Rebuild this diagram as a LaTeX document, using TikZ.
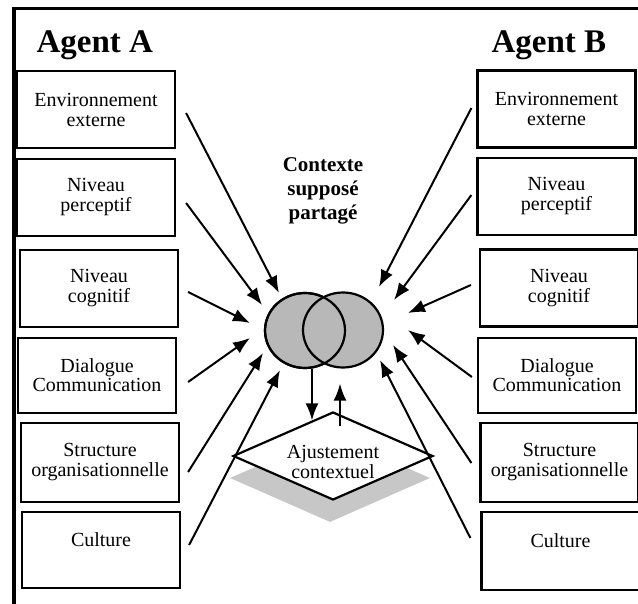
\documentclass[tikz,border=0pt]{standalone}
\usepackage{fontspec}
\setmainfont{Liberation Serif}
\usetikzlibrary{shapes.geometric, arrows.meta, positioning, calc}

\begin{document}
\begin{tikzpicture}[x=1pt, y=-1pt,
  box/.style={draw, rectangle, line width=2.2, minimum width=158, minimum height=77, inner sep=0, align=center, font=\fontsize{20}{20}\selectfont},
  agent/.style={anchor=base west, font=\fontsize{33}{35}\selectfont\bfseries},
  arr/.style={-{Latex[length=17pt, width=13pt]}, line width=2},
  venn/.style={ellipse, draw, line width=2.2, minimum width=80, minimum height=75, inner sep=0}]
\clip (0,0) rectangle (638,604);
% Frame
\draw[line width=3.5] (14,8.5) rectangle (660,630);

% Agent A
\node[agent] (titleA) at (33,53) {Agent A};
\node[box] (aEnv) at (96,109.5) {Environnement\\externe};
\node[box] (aPer) at (96,197.5) {Niveau\\perceptif};
\node[box] (aCog) at (99,288.5) {Niveau\\cognitif};
\node[box, minimum height=75] (aDia) at (97,375.5) {Dialogue\\[-1pt]Communication};
\node[box, minimum height=79] (aStr) at (100,462.5) {Structure\\organisationnelle};
\node[box, minimum height=76] (aCul) at (101,550) {Culture\\\mbox{}};

% Agent B
\node[agent] (titleB) at (488,53) {Agent B};
\node[box] (bEnv) at (556.5,109) {Environnement\\externe};
\node[box] (bPer) at (556.5,196.5) {Niveau\\perceptif};
\node[box] (bCog) at (559,288) {Niveau\\cognitif};
\node[box, minimum height=75] (bDia) at (557,375.5) {Dialogue\\[-1pt]Communication};
\node[box, minimum height=79] (bStr) at (559.5,462.5) {Structure\\organisationnelle};
\node[box, minimum height=78] (bCul) at (560.5,551) {Culture\\\mbox{}};

% Shared context
\node[align=center, font=\fontsize{21}{24}\selectfont\bfseries] (ctx) at (323,191) {Contexte\\supposé\\partagé};
\node[venn, fill=black!28] (vL) at (305,330.5) {};
\node[venn, fill=black!28] (vR) at (343,330) {};
\node[venn] (vLedge) at (vL) {};

% Adjustment
\node[diamond, fill=black!22, minimum width=200, minimum height=88, inner sep=0] (adjShadow) at (330,478) {};
\node[diamond, draw, fill=white, line width=2.2, minimum width=200, minimum height=88, inner sep=0] (adj) at (333,456) {};
\node[align=center, font=\fontsize{20}{20}\selectfont] (adjText) at (333,462) {Ajustement\\contextuel};
\draw[arr] ([xshift=7]vL.south) -- ([xshift=7]vL.south |- adj.121);
\draw[arr] ([shift={(7,15)}]adj.north) -- ([shift={(7,15)}]adj.north |- vR.south);

% Arrow tips
\coordinate (tA1) at (279,293);
\coordinate (tA2) at (262,305);
\coordinate (tA3) at (250,323);
\coordinate (tA4) at (250,338);
\coordinate (tA5) at (263,353);
\coordinate (tA6) at (280,370);
\coordinate (tB1) at (379,287);
\coordinate (tB2) at (394,300);
\coordinate (tB3) at (408,313);
\coordinate (tB4) at (408,330);
\coordinate (tB5) at (393,345);
\coordinate (tB6) at (380,360);

% Arrows from Agent A
\draw[arr] ([shift={(10,3.5)}]aEnv.east) -- (tA1);
\draw[arr] ([shift={(10,5.5)}]aPer.east) -- (tA2);
\draw[arr] ([shift={(9,3.5)}]aCog.east) -- (tA3);
\draw[arr] ([shift={(11,6.5)}]aDia.east) -- (tA4);
\draw[arr] ([shift={(8,9.5)}]aStr.east) -- (tA5);
\draw[arr] ([shift={(8,-5)}]aCul.east) -- (tA6);

% Arrows from Agent B
\draw[arr] ([shift={(-5,-1)}]bEnv.west) -- (tB1);
\draw[arr] ([shift={(-5,-1.5)}]bPer.west) -- (tB2);
\draw[arr] ([shift={(-8,-3)}]bCog.west) -- (tB3);
\draw[arr] ([shift={(-5,1.5)}]bDia.west) -- (tB4);
\draw[arr] ([shift={(-8,0.5)}]bStr.west) -- (tB5);
\draw[arr] ([shift={(-10,-13)}]bCul.west) -- (tB6);
\end{tikzpicture}
\end{document}
